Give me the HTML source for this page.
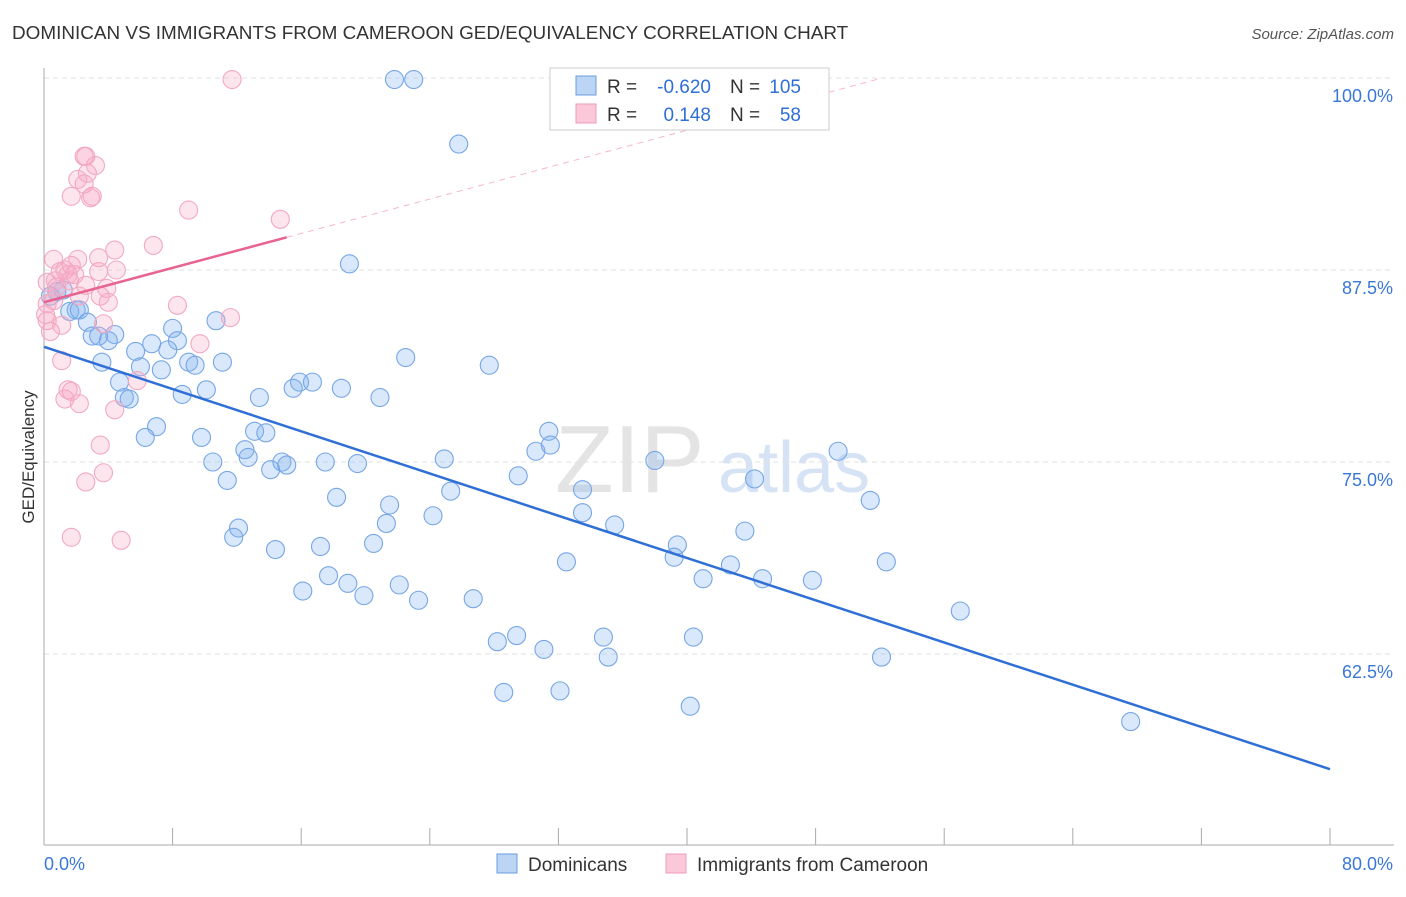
<!DOCTYPE html>
<html><head><meta charset="utf-8"><style>
body{margin:0;background:#fff;font-family:"Liberation Sans",sans-serif}
svg text{font-family:"Liberation Sans",sans-serif}
</style></head><body>
<svg id="chart" width="1406" height="892" viewBox="0 0 1406 892" xmlns="http://www.w3.org/2000/svg">
<text x="12" y="39" font-size="18.9" fill="#333">DOMINICAN VS IMMIGRANTS FROM CAMEROON GED/EQUIVALENCY CORRELATION CHART</text>
<text x="1394" y="39" font-size="15" fill="#555" text-anchor="end" font-style="italic">Source: ZipAtlas.com</text>
<g>
<text x="555" y="492" font-size="96" fill="#e4e4e4" font-family="Liberation Serif, serif">ZIP</text>
<text x="718" y="492" font-size="72" fill="#d5e3f5">atlas</text>
</g>
<g id="grid"></g>
<g id="axes"></g>
<g id="marks"></g>
<g id="lines"></g>
<text transform="translate(34,457) rotate(-90)" font-size="17" fill="#333" text-anchor="middle">GED/Equivalency</text>
<g>
<rect x="550" y="68" width="279" height="62" fill="#fff" stroke="#ccc"/>
<rect x="576" y="76" width="20" height="19" fill="#bcd5f5" stroke="#6a9de0"/>
<rect x="576" y="104" width="20" height="19" fill="#fac8d8" stroke="#ee9bb5"/>
<text x="607" y="93" font-size="19" fill="#333">R =</text>
<text x="711" y="93" font-size="19" fill="#2f6fd6" text-anchor="end">-0.620</text>
<text x="730" y="93" font-size="19" fill="#333">N =</text>
<text x="801" y="93" font-size="19" fill="#2f6fd6" text-anchor="end">105</text>
<text x="607" y="121" font-size="19" fill="#333">R =</text>
<text x="711" y="121" font-size="19" fill="#2f6fd6" text-anchor="end">0.148</text>
<text x="730" y="121" font-size="19" fill="#333">N =</text>
<text x="801" y="121" font-size="19" fill="#2f6fd6" text-anchor="end">58</text>
</g>
<g>
<rect x="497" y="854" width="20" height="19" fill="#bcd5f5" stroke="#6a9de0"/>
<text x="528" y="871" font-size="19" fill="#333">Dominicans</text>
<rect x="666" y="854" width="20" height="19" fill="#fac8d8" stroke="#ee9bb5"/>
<text x="697" y="871" font-size="19" fill="#333">Immigrants from Cameroon</text>
</g>
</svg>
<script>
const xTicks=[0,8,16,24,32,40,48,56,64,72,80];
const yTicks=[100,87.5,75,62.5];
const yTickLabels=["100.0%","87.5%","75.0%","62.5%"];
const xEndLabels=["0.0%","80.0%"];
const blueX=[21.8,23.0,25.8,19.0,0.8,1.2,0.4,2.0,1.6,2.2,2.7,3.0,3.4,4.4,4.0,3.6,5.7,6.7,8.0,8.3,7.7,6.0,7.3,9.0,9.4,11.1,10.7,4.7,5.0,5.3,8.6,10.1,22.5,27.7,13.4,15.9,15.5,16.7,18.5,20.9,7.0,6.3,9.8,12.5,12.7,13.1,13.8,10.5,11.4,14.1,14.8,15.1,17.5,19.5,12.1,11.8,14.4,18.2,21.5,21.3,17.2,20.5,24.2,25.3,24.9,29.5,30.6,31.4,31.5,33.5,33.5,35.5,32.5,38.0,39.4,39.2,41.0,42.7,44.7,43.6,44.2,49.4,51.4,52.4,47.8,16.1,17.7,18.9,19.9,22.1,23.3,26.7,28.2,29.4,31.1,34.8,35.1,40.4,28.6,32.1,40.2,52.1,57.0,67.6];
const blueY=[99.9,99.9,95.7,87.9,86.1,86.2,85.8,84.9,84.8,84.9,84.1,83.2,83.2,83.3,82.9,81.5,82.2,82.7,83.7,82.9,82.3,81.2,81.0,81.5,81.3,81.5,84.2,80.2,79.2,79.1,79.4,79.7,81.8,81.3,79.2,80.2,79.8,80.2,79.8,79.2,77.3,76.6,76.6,75.8,75.3,77.0,76.9,75.0,73.8,74.5,75.0,74.8,75.0,74.9,70.7,70.1,69.3,72.7,72.2,71.0,69.5,69.7,71.5,73.1,75.2,74.1,75.7,77.0,76.1,73.2,71.7,70.9,68.5,75.1,69.6,68.8,67.4,68.3,67.4,70.5,73.9,75.7,72.5,68.5,67.3,66.6,67.6,67.1,66.3,67.0,66.0,66.1,63.3,63.7,62.8,63.6,62.3,63.6,60.0,60.1,59.1,62.3,65.3,58.1];
const pinkX=[11.7,2.6,2.5,3.2,2.7,2.1,2.5,1.7,2.9,3.0,9.0,14.7,6.8,4.4,0.6,2.1,3.4,1.7,1.3,1.0,1.5,3.4,4.5,0.7,1.6,0.2,3.9,2.2,3.5,0.6,0.2,8.3,4.0,11.6,1.1,3.7,0.2,0.4,1.1,9.7,5.8,1.5,1.7,1.3,2.2,4.4,3.5,3.7,2.6,1.7,4.8,0.1,0.8,2.6,1.9];
const pinkY=[99.9,94.9,94.9,94.3,93.8,93.4,93.1,92.3,92.2,92.3,91.4,90.8,89.1,88.8,88.2,88.2,88.3,87.8,87.5,87.4,87.2,87.4,87.5,86.8,86.8,86.7,86.3,85.8,85.8,85.5,85.3,85.2,85.4,84.4,83.9,84.0,84.2,83.5,81.6,82.7,80.3,79.7,79.6,79.1,78.8,78.4,76.1,74.3,73.7,70.1,69.9,84.6,86.4,86.5,87.2];
const blueTrend=[82.5,55.0];
const pinkTrend=[85.4,0.28];
const pinkSolidEnd=15.1;

const NS="http://www.w3.org/2000/svg";
const X=v=>44+v*16.075;
const Y=v=>78+(100-v)*15.36;
function mk(tag,attrs,parent){const e=document.createElementNS(NS,tag);for(const k in attrs)e.setAttribute(k,attrs[k]);parent.appendChild(e);return e;}
const grid=document.getElementById('grid'),axes=document.getElementById('axes'),marks=document.getElementById('marks'),lines=document.getElementById('lines');
yTicks.forEach((t,i)=>{
  const l=mk('line',{x1:44,x2:1394,y1:Y(t),y2:Y(t),stroke:'#e2e2e2','stroke-dasharray':'5,4'},grid);
  
  
  const tx=mk('text',{x:1393,y:Y(t)+24,'font-size':18,fill:'#3a78d8','text-anchor':'end'},axes);
  tx.textContent=yTickLabels[i];
  
  
});
const ax=mk('line',{x1:44,x2:44,y1:68,y2:845,stroke:'#aaa'},axes);


const bx=mk('line',{x1:44,x2:1394,y1:845,y2:845,stroke:'#aaa'},axes);


xTicks.forEach(t=>{
  const l=mk('line',{x1:X(t),x2:X(t),y1:828,y2:845,stroke:'#aaa'},axes);
  
  
});
const xl0=mk('text',{x:44,y:870,'font-size':18,fill:'#3a78d8'},axes);xl0.textContent=xEndLabels[0];


const xl1=mk('text',{x:1393,y:870,'font-size':18,fill:'#3a78d8','text-anchor':'end'},axes);xl1.textContent=xEndLabels[1];


blueX.forEach((v,i)=>{
  const c=mk('circle',{cx:X(v),cy:Y(blueY[i]),r:9,fill:'rgba(130,178,238,0.3)',stroke:'#77a6e6','stroke-width':1.1},marks);
  
  
});
pinkX.forEach((v,i)=>{
  const c=mk('circle',{cx:X(v),cy:Y(pinkY[i]),r:9,fill:'rgba(247,170,198,0.3)',stroke:'#f2a8c0','stroke-width':1.1},marks);
  
  
});
const bl=mk('line',{x1:X(0),y1:Y(blueTrend[0]),x2:X(80),y2:Y(blueTrend[1]),stroke:'#2f6fd6','stroke-width':2.5},lines);


const pe=(100-pinkTrend[0])/pinkTrend[1];
const pl=mk('line',{x1:X(0),y1:Y(pinkTrend[0]),x2:X(pinkSolidEnd),y2:Y(pinkTrend[0]+pinkTrend[1]*pinkSolidEnd),stroke:'#e8648f','stroke-width':2.5},lines);


const pd=mk('line',{x1:X(pinkSolidEnd),y1:Y(pinkTrend[0]+pinkTrend[1]*pinkSolidEnd),x2:X(pe),y2:Y(100),stroke:'#f4b8cb','stroke-width':1,'stroke-dasharray':'6,5'},lines);


</script>
</body></html>
